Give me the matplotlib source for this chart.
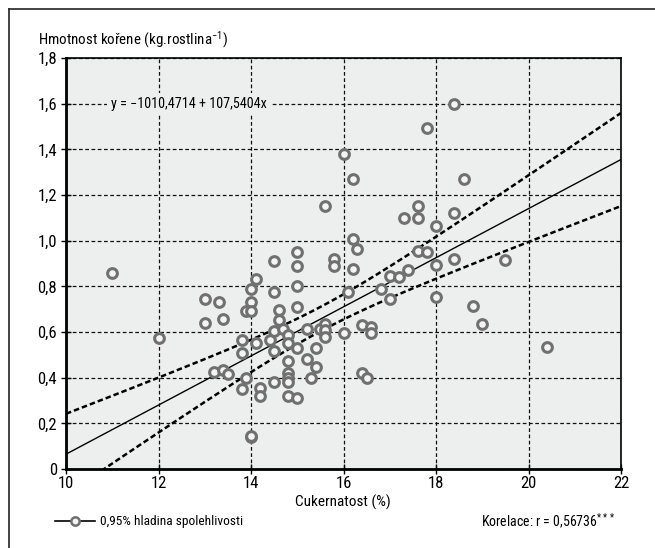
import matplotlib.pyplot as plt
import numpy as np
from matplotlib.lines import Line2D

plt.rcParams['font.family'] = ['Roboto Condensed', 'Archivo Narrow', 'DejaVu Sans']
plt.rcParams['mathtext.fontset'] = 'custom'
plt.rcParams['mathtext.rm'] = 'Roboto Condensed'
plt.rcParams['mathtext.it'] = 'Roboto Condensed'

# sugar content (%) and root weight (kg per plant)
cukernatost = [11.0, 12.0, 13.0, 13.0, 13.2, 13.3, 13.4, 13.4, 13.5, 13.8,
               13.8, 13.8, 13.9, 13.9, 14.0, 14.0, 14.0, 14.0, 14.0, 14.1,
               14.1, 14.2, 14.2, 14.4, 14.5, 14.5, 14.5, 14.5, 14.5, 14.6,
               14.6, 14.7, 14.8, 14.8, 14.8, 14.8, 14.8, 14.8, 14.8, 15.0,
               15.0, 15.0, 15.0, 15.0, 15.0, 15.2, 15.2, 15.3, 15.4, 15.4,
               15.5, 15.6, 15.6, 15.6, 15.6, 15.8, 15.8, 16.0, 16.0, 16.1,
               16.2, 16.2, 16.2, 16.3, 16.4, 16.4, 16.5, 16.6, 16.6, 16.8,
               17.0, 17.0, 17.2, 17.3, 17.4, 17.6, 17.6, 17.6, 17.8, 17.8,
               18.0, 18.0, 18.0, 18.4, 18.4, 18.4, 18.6, 18.8, 19.0, 19.5,
               20.4]
hmotnost = [0.86, 0.575, 0.743, 0.64, 0.425, 0.73, 0.655, 0.435, 0.415, 0.565,
            0.51, 0.35, 0.69, 0.40, 0.79, 0.73, 0.69, 0.14, 0.145, 0.83,
            0.553, 0.355, 0.32, 0.565, 0.91, 0.775, 0.605, 0.515, 0.381, 0.695,
            0.653, 0.615, 0.587, 0.553, 0.475, 0.42, 0.40, 0.38, 0.32, 0.95,
            0.89, 0.80, 0.71, 0.53, 0.312, 0.615, 0.48, 0.40, 0.53, 0.445,
            0.613, 1.152, 0.635, 0.61, 0.577, 0.92, 0.89, 1.38, 0.596, 0.775,
            1.27, 1.006, 0.876, 0.965, 0.63, 0.42, 0.40, 0.62, 0.596, 0.79,
            0.845, 0.745, 0.84, 1.10, 0.87, 1.152, 1.10, 0.955, 1.495, 0.95,
            1.065, 0.895, 0.755, 1.60, 1.12, 0.92, 1.27, 0.715, 0.635, 0.915,
            0.535]

# regression from the label (g per plant -> kg per plant)
intercept = -1010.4714 / 1000
slope = 107.5404 / 1000
t_crit = 1.987

x = np.array(cukernatost)
y = np.array(hmotnost)
n = len(x)
resid = y - (intercept + slope * x)
s = np.sqrt(np.sum(resid ** 2) / (n - 2))
sxx = np.sum((x - x.mean()) ** 2)

xs = np.linspace(10, 22, 200)
yhat = intercept + slope * xs
hw = t_crit * s * np.sqrt(1 / n + (xs - x.mean()) ** 2 / sxx)

bg = '#edeeee'
fig = plt.figure(figsize=(6.55, 5.48), dpi=100)
ax = fig.add_axes([66 / 655, 1 - 469 / 548, 555 / 655, 411 / 548])
ax.set_facecolor(bg)

ax.grid(True, color='#111111', linestyle=(0, (3, 2)), linewidth=0.9)
ax.set_axisbelow(True)

ax.plot(xs, yhat, color='black', linewidth=1.0, zorder=3)
ax.plot(xs, yhat + hw, color='black', linewidth=1.8, linestyle=(0, (2.2, 1.2)), zorder=3)
ax.plot(xs, yhat - hw, color='black', linewidth=1.8, linestyle=(0, (2.2, 1.2)), zorder=3)

ax.plot(x, y, linestyle='none', marker='o', markersize=7, markerfacecolor='#f4f4f4',
        markeredgecolor='#707070', markeredgewidth=2.2, zorder=4)

ax.set_xlim(10, 22)
ax.set_ylim(0, 1.8)
ax.set_xticks(np.arange(10, 23, 2))
ax.set_yticks(np.arange(0, 1.81, 0.2))
ax.set_xticklabels([str(v) for v in range(10, 23, 2)])
ax.set_yticklabels(['0'] + [f'{v:.1f}'.replace('.', ',') for v in np.arange(0.2, 1.81, 0.2)])
ax.tick_params(direction='inout', length=7, width=1, labelsize=12, color='black', pad=3)
ax.tick_params(axis='x', pad=1.5)
for side in ['top', 'right']:
    ax.spines[side].set_linewidth(1.2)
for side in ['left', 'bottom']:
    ax.spines[side].set_linewidth(2.0)

ax.text(12.65, 1.6, 'y = \u22121010,4714 + 107,5404x', ha='center', va='center', fontsize=10.2,
        bbox=dict(facecolor=bg, edgecolor='none', pad=3), zorder=5)

fig.text(38 / 655, 1 - 40 / 548, 'Hmotnost kořene (kg.rostlina$^{\u22121}$)', fontsize=10.8,
         ha='left', va='center')
fig.text(343 / 655, 1 - 502 / 548, 'Cukernatost (%)', fontsize=11, ha='center', va='center')

leg_y = 1 - 521 / 548
fig.add_artist(Line2D([55 / 655, 95 / 655], [leg_y] * 2, transform=fig.transFigure,
                      color='black', linewidth=1.2))
fig.add_artist(Line2D([75 / 655], [leg_y], transform=fig.transFigure, marker='o',
                      markersize=6, markerfacecolor='#f4f4f4', markeredgecolor='#707070',
                      markeredgewidth=1.8))
fig.text(100 / 655, leg_y, '0,95% hladina spolehlivosti', fontsize=9.6,
         ha='left', va='center')
fig.text(615 / 655, leg_y, 'Korelace: r = 0,56736$^{***}$', fontsize=10,
         ha='right', va='center')

# outer frame: top and left only
fig.add_artist(Line2D([9 / 655, 1], [1 - 9 / 548] * 2, transform=fig.transFigure,
                      color='#222222', linewidth=1.2))
fig.add_artist(Line2D([9 / 655] * 2, [0, 1 - 9 / 548], transform=fig.transFigure,
                      color='#222222', linewidth=1.2))

fig.savefig('out.png', dpi=100, facecolor='white')
